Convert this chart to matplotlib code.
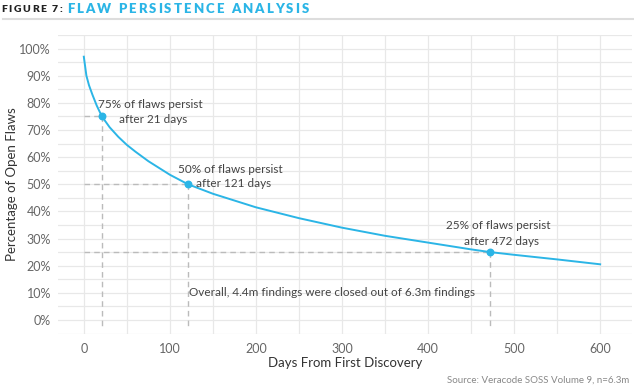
import matplotlib
matplotlib.use("Agg")
import matplotlib.pyplot as plt
import numpy as np

# ---- data ----
days = [0, 3, 6, 10, 15, 21, 30, 40, 50, 60, 75, 90, 100, 121, 150, 175, 200, 250, 300, 350, 400, 450, 472, 500, 550, 600]
pct_open = [97, 90, 86.5, 83, 79, 75, 71, 67.5, 64.5, 62, 58.5, 55.5, 53.5, 50, 46.5, 44, 41.5, 37.5, 34, 31, 28.5, 26, 25, 24, 22.3, 20.5]
marker_days = [21, 121, 472]
marker_pct = [75, 50, 25]
label_line1 = ["75% of flaws persist", "50% of flaws persist", "25% of flaws persist"]
label_line2 = ["after 21 days", "after 121 days", "after 472 days"]
x_ticks = [0, 100, 200, 300, 400, 500, 600]
y_ticks = [0, 10, 20, 30, 40, 50, 60, 70, 80, 90, 100]
note = "Overall, 4.4m findings were closed out of 6.3m findings"
source = "Source: Veracode SOSS Volume 9, n=6.3m"

plt.rcParams['font.family'] = ['Lato', 'DejaVu Sans']
BLUE = '#2bb5e6'
TXT = '#444444'
GRID = '#e8e8e8'

fig = plt.figure(figsize=(6.34, 3.85), dpi=100)
ax = fig.add_axes([58/634, 1-333.5/385, (632-58)/634, (333.5-35)/385])

ax.set_xlim(-30, 637)
ax.set_ylim(-5, 105)
ax.set_yticks(np.arange(-5, 106, 5))
ax.grid(True, color=GRID, linewidth=0.9)
ax.set_axisbelow(True)
for s in ax.spines.values():
    s.set_visible(False)
ax.tick_params(length=0, colors='#666666', labelsize=9)
ax.set_xticks(np.arange(0, 601, 50))
ax.set_xticklabels([str(v) if v in x_ticks else '' for v in np.arange(0, 601, 50)])
yt = np.arange(-5, 106, 5)
ax.set_yticklabels([f"{v}%" if v in y_ticks else '' for v in yt])
ax.tick_params(axis='x', pad=7)
ax.tick_params(axis='y', pad=5)

ax.plot(days, pct_open, color=BLUE, linewidth=1.4, zorder=3)

for d, p in zip(marker_days, marker_pct):
    ax.plot([0, d], [p, p], color='#bbbbbb', linestyle=(0, (4, 3)), linewidth=1, zorder=2)
    ax.plot([d, d], [p, -3.5], color='#bbbbbb', linestyle=(0, (4, 3)), linewidth=1, zorder=2)
ax.scatter(marker_days, marker_pct, color=BLUE, s=22, zorder=4)

line1_pos = [(76.7, 79.3), (170.3, 55.4), (481.4, 34.7)]
line2_pos = [(80.2, 73.8), (173.8, 50.2), (484.9, 28.9)]
for (x, y), lab in zip(line1_pos, label_line1):
    ax.text(x, y, lab, ha='center', va='center', fontsize=8.5, color=TXT)
for (x, y), lab in zip(line2_pos, label_line2):
    ax.text(x, y, lab, ha='center', va='center', fontsize=8.5, color=TXT)

ax.text(122.7, 10.1, note, ha='left', va='center', fontsize=8.5, color=TXT)

ax.set_xlabel("Days From First Discovery", fontsize=9.5, color='#333333')
ax.xaxis.set_label_coords(0.5, -(363-333.5)/(333.5-35))
ax.xaxis.label.set_va('center')
ax.set_ylabel("Percentage of Open Flaws", fontsize=9.5, color='#333333')
ax.yaxis.set_label_coords(-(58-12)/(632-58), 0.5)
ax.yaxis.label.set_va('center')

fig.text(629/634, 1-380/385, source, ha='right', va='center', fontsize=7, color='#888888')

# Title with letter spacing
fig.canvas.draw()
renderer = fig.canvas.get_renderer()
def spaced(x, y, s, color, size, spacing):
    for ch in s:
        t = fig.text(x, y, ch, fontsize=size, fontweight='heavy', color=color, va='center', ha='left',
                     transform=None)
        bb = t.get_window_extent(renderer)
        w = bb.width if ch != ' ' else size * 0.3
        x += w + spacing
    return x
ypix = 385 - 9
xe = spaced(1, ypix, "FIGURE 7:", '#222222', 7.5, 1.6)
spaced(xe + 3, ypix, "FLAW PERSISTENCE ANALYSIS", BLUE, 9.5, 2.1)
fig.add_artist(plt.Line2D([3/634, 1], [1-19/385, 1-19/385], color='#dddddd', linewidth=1.5))

fig.savefig("out.png", dpi=100)
